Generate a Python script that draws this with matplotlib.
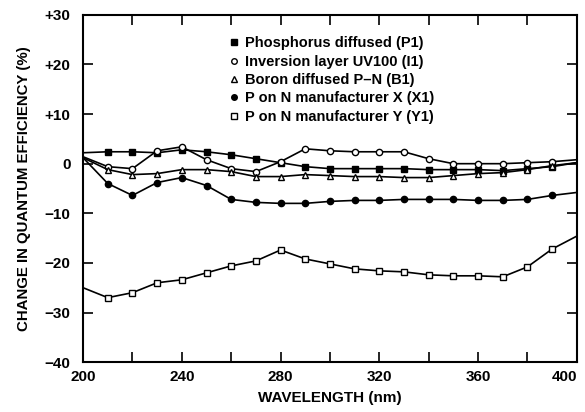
import matplotlib
matplotlib.use("Agg")
import matplotlib.pyplot as plt
from matplotlib.lines import Line2D

plt.rcParams['font.family'] = ['Liberation Sans', 'DejaVu Sans']

wavelength = [200, 210, 220, 230, 240, 250, 260, 270, 280, 290, 300,
              310, 320, 330, 340, 350, 360, 370, 380, 390, 400]

p1 = [2.2, 2.4, 2.4, 2.2, 2.8, 2.4, 1.8, 1.0, 0.2, -0.6, -1.0,
      -1.0, -1.0, -1.0, -1.2, -1.2, -1.2, -1.4, -1.0, -0.6, 0.2]
i1 = [1.4, -0.6, -1.0, 2.6, 3.4, 0.8, -1.0, -1.6, 0.4, 3.0, 2.6,
      2.4, 2.4, 2.4, 1.0, 0.0, 0.0, 0.0, 0.2, 0.4, 0.8]
b1 = [1.2, -1.2, -2.2, -2.0, -1.2, -1.2, -1.6, -2.6, -2.6, -2.2, -2.4,
      -2.6, -2.6, -2.8, -2.8, -2.4, -2.0, -1.8, -1.2, -0.4, 0.2]
x1 = [1.2, -4.0, -6.4, -3.8, -2.8, -4.4, -7.2, -7.8, -8.0, -8.0, -7.6,
      -7.4, -7.4, -7.2, -7.2, -7.2, -7.4, -7.4, -7.2, -6.4, -5.8]
y1 = [-25.0, -27.0, -26.0, -24.0, -23.4, -22.0, -20.6, -19.6, -17.4, -19.2, -20.2,
      -21.2, -21.6, -21.8, -22.4, -22.6, -22.6, -22.8, -20.8, -17.2, -14.6]

series = [
    ("Phosphorus diffused (P1)", p1, 's', 'black'),
    ("Inversion layer UV100 (I1)", i1, 'o', 'white'),
    ("Boron diffused P\u2013N (B1)", b1, '^', 'white'),
    ("P on N manufacturer X (X1)", x1, 'o', 'black'),
    ("P on N manufacturer Y (Y1)", y1, 's', 'white'),
]

x_major = [200, 240, 280, 320, 360, 400]
x_minor = [220, 260, 300, 340, 380]
y_ticks = [-40, -30, -20, -10, 0, 10, 20, 30]
y_labels = ["\u221240", "\u221230", "\u221220", "\u221210", "0", "+10", "+20", "+30"]

fig = plt.figure(figsize=(5.85, 4.12), dpi=100)
ax = fig.add_axes([0.142, 0.121, 0.844, 0.843])

handles = []
for name, vals, mk, face in series:
    ax.plot(wavelength, vals, color='black', lw=1.2, marker=mk, ms=4.5,
            mfc=face, mec='black', mew=1.0, markevery=range(1, len(wavelength) - 1))
    handles.append(Line2D([], [], ls='none', marker=mk, ms=4, mfc=face,
                          mec='black', mew=1.0, label=name))

ax.set_xlim(200, 400)
ax.set_ylim(-40, 30)
ax.set_xticks(x_major)
ax.set_xticks(x_minor, minor=True)
ax.set_yticks(y_ticks)
ax.set_yticklabels(y_labels)

ax.tick_params(which='both', direction='in', top=True, right=True, length=7, width=1.2,
               labelsize=11)
ax.tick_params(axis='y', pad=9)
ax.tick_params(axis='x', pad=6)
for lab in ax.get_xticklabels() + ax.get_yticklabels():
    lab.set_fontweight('bold')
ax.get_xticklabels()[-1].set_horizontalalignment('right')
for sp in ax.spines.values():
    sp.set_linewidth(1.5)

ax.set_xlabel("WAVELENGTH (nm)", fontsize=11, fontweight='bold', labelpad=5)
ax.set_ylabel("CHANGE IN QUANTUM EFFICIENCY (%)", fontsize=10.8, fontweight='bold',
              labelpad=10)

ax.legend(handles=handles, loc='upper left', bbox_to_anchor=(0.285, 0.955),
          frameon=False, handlelength=0.6, handletextpad=0.45, labelspacing=0.3,
          prop={'size': 10.5, 'weight': 'bold'}, borderaxespad=0)

fig.savefig("out.png", dpi=100)
